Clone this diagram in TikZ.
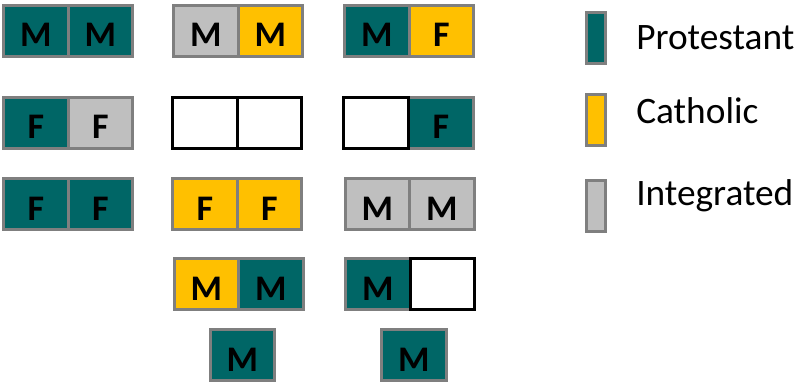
\documentclass[tikz,border=0pt]{standalone}
\usepackage{fontspec}
\setmainfont{Carlito}
\usetikzlibrary{positioning}
\definecolor{protcol}{HTML}{006666}
\definecolor{cathcol}{HTML}{FFC000}
\definecolor{integcol}{HTML}{BFBFBF}
\definecolor{edgecol}{HTML}{7F7F7F}

\begin{document}
\begin{tikzpicture}[
  x=0.75pt, y=-0.75pt,
  node distance=0pt,
  cell/.style={rectangle, draw=edgecol, line width=2.25pt,
    minimum width=48.4pt, minimum height=38.25pt, inner sep=0pt, outer sep=0pt,
    text height=24pt, text depth=0pt, font=\bfseries\fontsize{27}{27}\selectfont},
  prot/.style={cell, fill=protcol},
  cath/.style={cell, fill=cathcol},
  integ/.style={cell, fill=integcol},
  blank/.style={cell, draw=black, fill=white},
  key/.style={rectangle, draw=edgecol, line width=2.25pt,
    minimum width=14.25pt, minimum height=38.25pt, inner sep=0pt, outer sep=0pt},
  keytext/.style={anchor=base west, inner sep=0pt, font=\fontsize{28}{28}\selectfont}
]
\useasboundingbox (0,0) rectangle (798,383);

% first column
\node[prot, anchor=north west] (a1l) at (3.5,5) {M};
\node[prot, right=of a1l] (a1r) {M};
\node[prot, anchor=north west] (a2l) at (3.5,97) {F};
\node[integ, right=of a2l] (a2r) {F};
\node[prot, anchor=north west] (a3l) at (3.5,178.5) {F};
\node[prot, right=of a3l] (a3r) {F};

% second column
\node[integ, anchor=north west] (b1l) at (173.5,5) {M};
\node[cath, right=of b1l] (b1r) {M};
\node[blank, anchor=north west] (b2l) at (172.5,97) {};
\node[blank, right=of b2l] (b2r) {};
\node[cath, anchor=north west] (b3l) at (172.5,178.5) {F};
\node[cath, right=of b3l] (b3r) {F};
\node[cath, anchor=north west] (b4l) at (174,258.5) {M};
\node[prot, right=of b4l] (b4r) {M};
\node[prot, anchor=north west] (b5) at (210,329.5) {M};

% third column
\node[prot, anchor=north west] (c1l) at (344.5,5) {M};
\node[cath, right=of c1l] (c1r) {F};
\node[prot, anchor=north west] (c2r) at (408.5,97) {F};
\node[blank, left=of c2r] (c2l) {};
\node[integ, anchor=north west] (c3l) at (345,178.5) {M};
\node[integ, right=of c3l] (c3r) {M};
\node[prot, anchor=north west] (c4l) at (345.5,258.5) {M};
\node[blank, right=of c4l] (c4r) {};
\node[prot, anchor=north west] (c5) at (381.5,329.5) {M};

% legend
\node[key, fill=protcol] (kprot) at (596,38) {};
\node[key, fill=cathcol] (kcath) at (596,120) {};
\node[key, fill=integcol] (kinteg) at (596,206) {};
\node[keytext] (tprot) at (636,49) {Protestant};
\node[keytext] (tcath) at (636,123) {Catholic};
\node[keytext] (tinteg) at (636,205) {Integrated};
\end{tikzpicture}
\end{document}
